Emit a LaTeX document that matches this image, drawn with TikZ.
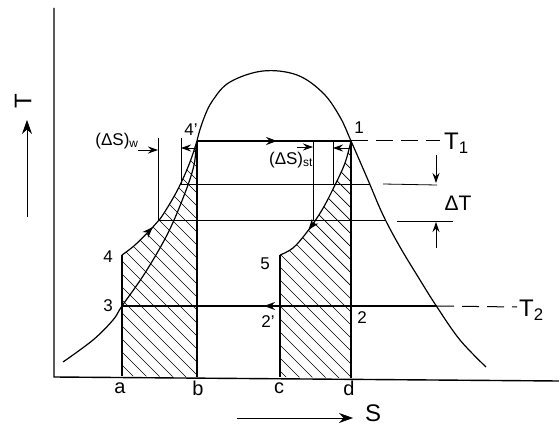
\documentclass[tikz,border=0pt]{standalone}
\usepackage{fontspec}
\setmainfont{Liberation Sans}
\usetikzlibrary{arrows.meta,decorations.markings}
\begin{document}
\begin{tikzpicture}[x=1pt,y=-1pt,
  mainline/.style={line width=1.2pt},
  axisline/.style={line width=1.4pt},
  thinline/.style={line width=0.8pt},
  hatchline/.style={line width=0.7pt},
  dashline/.style={line width=1pt,dash pattern=on 17pt off 8pt},
  tip/.style={-{Stealth[length=10pt,width=7pt]}},
  bigtip/.style={-{Stealth[length=14pt,width=10pt]}},
  midarrow/.style={postaction={decorate},decoration={markings,
     mark=at position #1 with {\arrow{Stealth[length=11pt,width=8pt]}}}},
  lblnum/.style={inner sep=0pt,font=\fontsize{17}{19}\selectfont},
  lblbig/.style={inner sep=0pt,font=\fontsize{24}{26}\selectfont},
  lblds/.style={inner sep=0pt,font=\fontsize{17}{19}\selectfont},
]
\useasboundingbox (0,0) rectangle (559,430);

% ---------- key points ----------
\coordinate (O) at (54,377);
\coordinate (Ytop) at (54,8);
\coordinate (Xend) at (559,381);
\coordinate (P1) at (351,141);
\coordinate (P4p) at (197,141);
\coordinate (P4) at (122,255);
\coordinate (P3) at (122,306);
\coordinate (P2) at (351,306);
\coordinate (P5) at (280,255);
\coordinate (A) at (122,376);
\coordinate (B) at (197,377);
\coordinate (C) at (280,377);
\coordinate (D) at (351,378);

% ---------- hatching ----------
\begin{scope}
  \clip (A) -- (P4) -- plot[smooth,tension=0.6] coordinates {(122,255) (135,245) (152,228) (160,219) (172,200) (181,183) (190,162) (197,141)} -- (B) -- cycle;
  \foreach \k in {-260,-247,...,320} \draw[hatchline] (\k,100) -- (\k+300,400);
\end{scope}
\begin{scope}
  \clip (C) -- (P5) -- plot[smooth,tension=0.6] coordinates {(280,255) (293,248) (307,232) (322,210) (335,185) (345,163) (351,141)} -- (D) -- cycle;
  \foreach \k in {-160,-147,...,400} \draw[hatchline] (\k,100) -- (\k+300,400);
\end{scope}

% ---------- axes ----------
\draw[axisline] (Ytop) -- (O) -- (Xend);

% ---------- dome ----------
\draw[mainline] plot[smooth,tension=0.6] coordinates {
  (63,362) (93,340) (113,320) (122,306) (145,273) (168,233) (185,193) (194,165) (197,141)
  (204,118) (213,100) (230,82) (263,71) (297,75) (323,93) (340,117) (351,141)
  (368,180) (383,215) (400,247) (420,280) (437,307) (460,340) (486,367)};

% ---------- process curves ----------
\draw[mainline,midarrow=0.3] plot[smooth,tension=0.6] coordinates {(122,255) (135,245) (152,228) (160,219) (172,200) (181,183) (190,162) (197,141)};
\draw[mainline,midarrow=0.72] plot[smooth,tension=0.6] coordinates {(351,141) (345,163) (335,185) (322,210) (307,232) (293,248) (280,255)};

% ---------- verticals ----------
\draw[mainline] (A) -- (P4);
\draw[mainline] (B) -- (P4p);
\draw[mainline] (C) -- (P5);
\draw[mainline] (D) -- (P1);

% ---------- isotherms ----------
\draw[mainline,midarrow=0.52] (P4p) -- (P1);
\coordinate (T1end) at (440,141);
\draw[dashline] (P1) -- (T1end);
\draw[mainline,midarrow=0.38] (P2) -- (P3);
\coordinate (T2dome) at (437,306);
\coordinate (T2end) at (517,307);
\draw[mainline] (P2) -- (T2dome);
\draw[dashline] (T2dome) -- (T2end);

% ---------- Delta T lines ----------
\coordinate (U1) at (181,184); \coordinate (U2) at (370,184);
\coordinate (U3) at (383,184); \coordinate (U4) at (437,185);
\coordinate (L1) at (158,220); \coordinate (L2) at (386,220);
\coordinate (L3) at (397,221); \coordinate (L4) at (453,221);
\draw[thinline] (U1) -- (U2);
\draw[thinline] (U3) -- (U4);
\draw[thinline] (L1) -- (L2);
\draw[thinline] (L3) -- (L4);
\coordinate (DTa) at (436,155); \coordinate (DTb) at (436,183);
\coordinate (DTc) at (436,248); \coordinate (DTd) at (436,222);
\draw[thinline,tip] (DTa) -- (DTb);
\draw[thinline,tip] (DTc) -- (DTd);

% ---------- (Delta S) brackets ----------
\coordinate (W1t) at (158,138); \coordinate (W2t) at (181,138);
\draw[thinline] (W1t) -- (L1);
\draw[thinline] (W2t) -- (U1);
\coordinate (Wa) at (138,150); \coordinate (Wb) at (158,150);
\coordinate (Wc) at (197,148); \coordinate (Wd) at (181,148);
\draw[thinline,tip] (Wa) -- (Wb);
\draw[thinline,tip] (Wc) -- (Wd);

\coordinate (S1t) at (313,141); \coordinate (S1b) at (313,220);
\coordinate (S2t) at (333,141); \coordinate (S2b) at (333,184);
\draw[thinline] (S1t) -- (S1b);
\draw[thinline] (S2t) -- (S2b);
\coordinate (Sa) at (297,147); \coordinate (Sb) at (313,147);
\coordinate (Sc) at (351,148); \coordinate (Sd) at (333,148);
\draw[thinline,tip] (Sa) -- (Sb);
\draw[thinline,tip] (Sc) -- (Sd);

% ---------- axis arrows ----------
\coordinate (Ta) at (27,217); \coordinate (Tb) at (27,120);
\draw[thinline,bigtip] (Ta) -- (Tb);
\coordinate (Sxa) at (237,418); \coordinate (Sxb) at (353,418);
\draw[thinline,bigtip] (Sxa) -- (Sxb);

% ---------- labels ----------
\node[lblbig,rotate=90] (Tlab) at (23,101) {T};
\node[lblbig] (Slab) at (373,413) {S};
\node[lblbig,anchor=west] (T1lab) at (444,143) {T\textsubscript{1}};
\node[lblbig,anchor=west] (T2lab) at (519,310) {T\textsubscript{2}};
\node[font=\fontsize{21}{23}\selectfont,inner sep=0pt] (DTlab) at (458,203) {ΔT};
\node[lblds] (DSw) at (117,141) {(ΔS)\textsubscript{w}};
\node[lblds] (DSst) at (291,160) {(ΔS)\textsubscript{st}};

\node[lblnum] (n1) at (359,128) {1};
\node[lblnum] (n4p) at (191,130) {4'};
\node[lblnum] (n2) at (362,318) {2};
\node[lblnum] (n2p) at (268,322) {2'};
\node[lblnum] (n3) at (108,306) {3};
\node[lblnum] (n4) at (108,257) {4};
\node[lblnum] (n5) at (265,264) {5};

\node[font=\fontsize{20}{22}\selectfont,inner sep=0pt] (la) at (120,388) {a};
\node[font=\fontsize{20}{22}\selectfont,inner sep=0pt] (lb) at (198,388) {b};
\node[font=\fontsize{20}{22}\selectfont,inner sep=0pt] (lc) at (279,388) {c};
\node[font=\fontsize{20}{22}\selectfont,inner sep=0pt] (ld) at (349,388) {d};
\end{tikzpicture}
\end{document}
